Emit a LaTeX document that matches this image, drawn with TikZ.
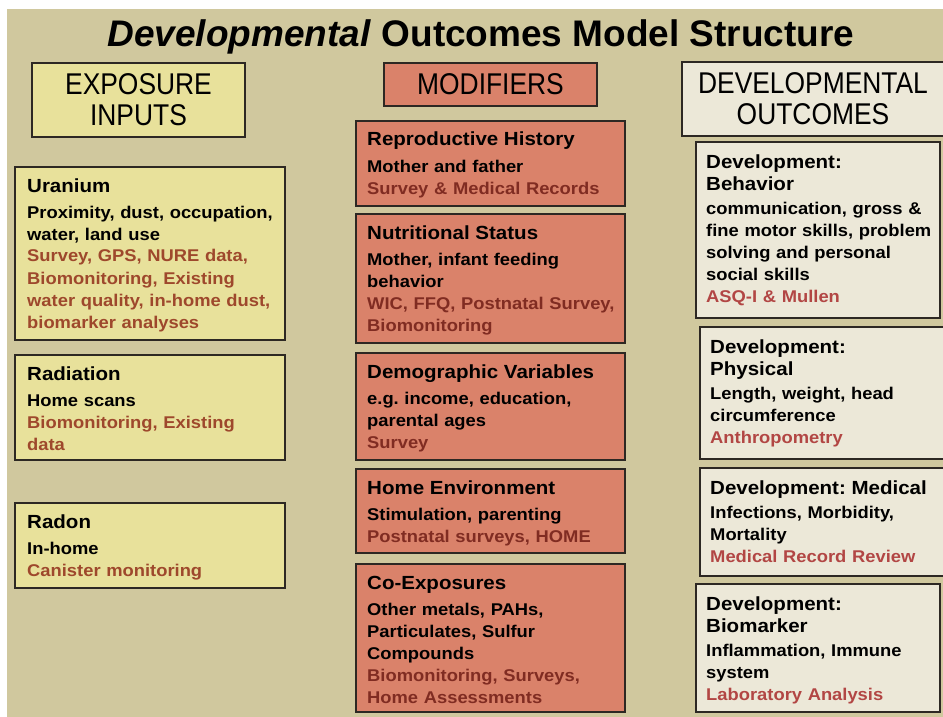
\documentclass[tikz,border=0pt]{standalone}
\usepackage{fontspec}
\setmainfont{Liberation Sans}
\newfontfamily\bodyfont[FakeStretch=1.08]{Liberation Sans}
\newfontfamily\capsfont[FakeStretch=0.88]{Liberation Sans}
\definecolor{tan}{RGB}{208,200,158}
\definecolor{yel}{RGB}{232,225,155}
\definecolor{salmon}{RGB}{218,130,106}
\definecolor{beige}{RGB}{236,232,216}
\definecolor{edge}{RGB}{45,40,35}
\definecolor{redY}{RGB}{158,72,44}
\definecolor{redM}{RGB}{128,44,34}
\definecolor{redO}{RGB}{178,70,68}
\frenchspacing

\begin{document}
\begin{tikzpicture}[x=1pt,y=-1pt,
  box/.style={draw=edge,line width=1.4pt,anchor=north west,inner sep=0pt,outer sep=0pt},
  expobox/.style={box,fill=yel},
  modbox/.style={box,fill=salmon},
  outbox/.style={box,fill=beige},
  txt/.style={anchor=base west,align=left,text width=320pt,inner sep=0pt,
    font=\bodyfont\bfseries\fontsize{17}{22}\selectfont},
  head/.style={font=\capsfont\fontsize{30}{31}\selectfont,align=center,inner sep=0pt}
  ]
  % page and background
  \useasboundingbox (0,0) rectangle (943,717);
  \fill[white] (0,0) rectangle (943,717);
  \fill[tan] (7,9) rectangle (943,717);

  \node[anchor=base,font=\bfseries\fontsize{37}{40}\selectfont] (title) at (481,47)
    {\textit{Developmental} Outcomes Model Structure};

  % column heads
  \node[expobox,minimum width=213pt,minimum height=74pt] (expo) at (32,63) {};
  \node[head] (expotxt) at (expo.center) {EXPOSURE\\INPUTS};
  \node[modbox,minimum width=213pt,minimum height=43pt] (modif) at (384,63) {};
  \node[head] (modiftxt) at (modif.center) {MODIFIERS};
  \node[outbox,minimum width=262pt,minimum height=74pt] (outc) at (682,62) {};
  \node[head] (outctxt) at (outc.center) {DEVELOPMENTAL\\OUTCOMES};

  % exposure inputs
  \node[expobox,minimum width=270pt,minimum height=173pt] (uranium) at (15,167) {};
  \node[txt] (uraniumtxt) at (27,192) {{\fontsize{19}{22}\selectfont Uranium}\\[4pt]
    Proximity, dust, occupation,\\ water, land use\\
    {\color{redY}Survey, GPS, NURE data,\\ Biomonitoring, Existing\\
    water quality, in-home dust,\\ biomarker analyses}};
  \node[expobox,minimum width=270pt,minimum height=105pt] (radiation) at (15,355) {};
  \node[txt] (radiationtxt) at (27,380) {{\fontsize{19}{22}\selectfont Radiation}\\[4pt]
    Home scans\\
    {\color{redY}Biomonitoring, Existing\\ data}};
  \node[expobox,minimum width=270pt,minimum height=85pt] (radon) at (15,503) {};
  \node[txt] (radontxt) at (27,528) {{\fontsize{19}{22}\selectfont Radon}\\[4pt]
    In-home\\
    {\color{redY}Canister monitoring}};

  % modifiers
  \node[modbox,minimum width=269pt,minimum height=85pt] (repro) at (356,121) {};
  \node[txt] (reprotxt) at (367,146) {{\fontsize{19}{22}\selectfont Reproductive History}\\[4pt]
    Mother and father\\
    {\color{redM}Survey \& Medical Records}};
  \node[modbox,minimum width=269pt,minimum height=129pt] (nutr) at (356,214) {};
  \node[txt] (nutrtxt) at (367,239) {{\fontsize{19}{22}\selectfont Nutritional Status}\\[4pt]
    Mother, infant feeding\\ behavior\\
    {\color{redM}WIC, FFQ, Postnatal Survey,\\ Biomonitoring}};
  \node[modbox,minimum width=269pt,minimum height=107pt] (demo) at (356,353) {};
  \node[txt] (demotxt) at (367,378) {{\fontsize{19}{22}\selectfont Demographic Variables}\\[4pt]
    e.g. income, education,\\ parental ages\\
    {\color{redM}Survey}};
  \node[modbox,minimum width=269pt,minimum height=84pt] (home) at (356,469) {};
  \node[txt] (hometxt) at (367,494) {{\fontsize{19}{22}\selectfont Home Environment}\\[4pt]
    Stimulation, parenting\\
    {\color{redM}Postnatal surveys, HOME}};
  \node[modbox,minimum width=269pt,minimum height=148pt] (coexp) at (356,564) {};
  \node[txt] (coexptxt) at (367,589) {{\fontsize{19}{22}\selectfont Co-Exposures}\\[4pt]
    Other metals, PAHs,\\ Particulates, Sulfur\\ Compounds\\
    {\color{redM}Biomonitoring, Surveys,\\ Home Assessments}};

  % developmental outcomes
  \node[outbox,minimum width=244pt,minimum height=176pt] (behav) at (696,142) {};
  \node[txt] (behavtxt) at (706,168) {{\fontsize{19}{22}\selectfont Development:\\ Behavior}\\[2pt]
    communication, gross \&\\ fine motor skills, problem\\ solving and personal\\ social skills\\
    {\color{redO}ASQ-I \& Mullen}};
  \node[outbox,minimum width=244pt,minimum height=132pt] (phys) at (700,327) {};
  \node[txt] (phystxt) at (710,353) {{\fontsize{19}{22}\selectfont Development:\\ Physical}\\[2pt]
    Length, weight, head\\ circumference\\
    {\color{redO}Anthropometry}};
  \node[outbox,minimum width=244pt,minimum height=108pt] (med) at (700,468) {};
  \node[txt] (medtxt) at (710,494) {{\fontsize{19}{22}\selectfont Development: Medical}\\[2pt]
    Infections, Morbidity,\\ Mortality\\
    {\color{redO}Medical Record Review}};
  \node[outbox,minimum width=244pt,minimum height=128pt] (bio) at (696,584) {};
  \node[txt] (biotxt) at (706,610) {{\fontsize{19}{22}\selectfont Development:\\ Biomarker}\\[2pt]
    Inflammation, Immune\\ system\\
    {\color{redO}Laboratory Analysis}};
\end{tikzpicture}
\end{document}
